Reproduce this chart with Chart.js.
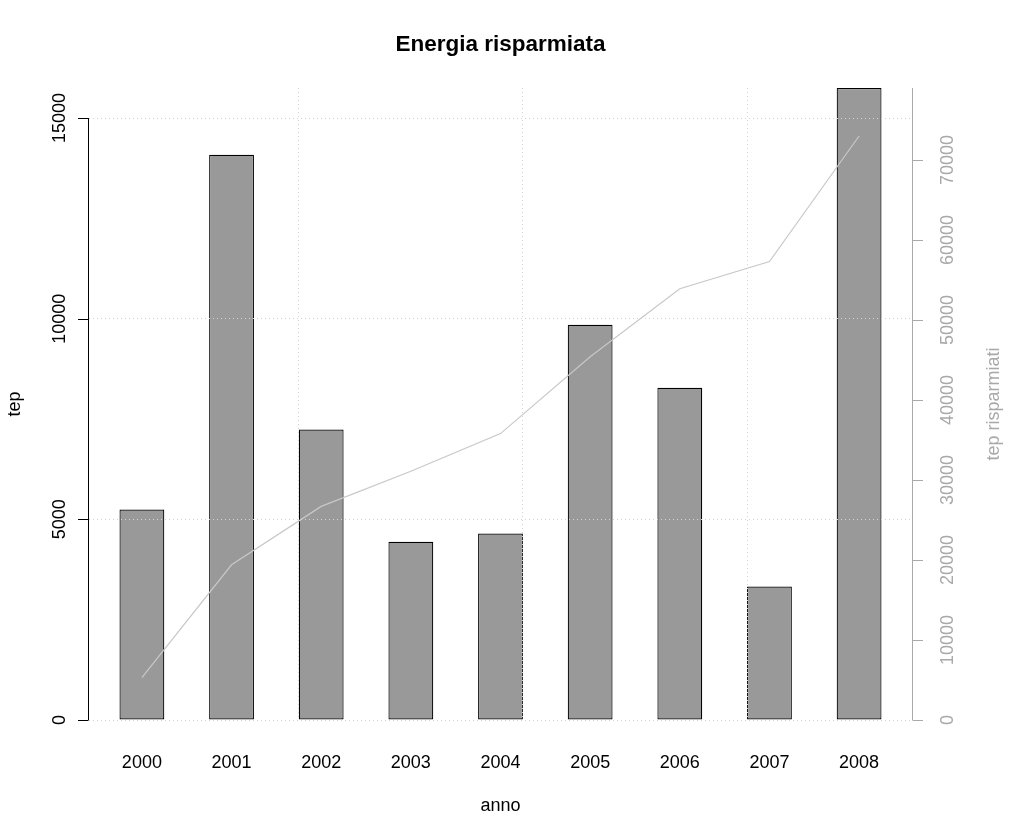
<!DOCTYPE html>
<html>
<head>
<meta charset="utf-8">
<script src="https://cdn.jsdelivr.net/npm/chart.js@4.4.1/dist/chart.umd.min.js"></script>
<style>
    html, body { margin: 0; padding: 0; background: #fff; }
</style>
</head>
<body>
<canvas id="grafico" width="1024" height="838"></canvas>
<script>
    // dati
    const anni = ['2000', '2001', '2002', '2003', '2004', '2005', '2006', '2007', '2008'];
    const tepAnno = [5245, 14083, 7238, 4440, 4647, 9847, 8277, 3326, 15748];
    const tepCumulati = [5300, 19400, 26700, 31100, 35800, 45400, 53900, 57300, 73000];
    const tickSinistra = [0, 5000, 10000, 15000];
    const tickDestra = [0, 10000, 20000, 30000, 40000, 50000, 60000, 70000];
    const grigliaX = [5, 10, 15];

    const font = '"Liberation Sans", Arial, sans-serif';
    const grigio = '#a9a9a9';

    // posizione delle barre come in barplot() di R (larghezza 1, spazio 1)
    const centro = i => 1.5 + 2 * i;

    const assiR = {
        id: 'assiR',
        afterDraw(chart) {
            const ctx = chart.ctx;
            const area = chart.chartArea;
            const x = chart.scales.x, y = chart.scales.y, y2 = chart.scales.y2;
            ctx.save();
            ctx.lineWidth = 1;

            // asse sinistro
            ctx.strokeStyle = '#000';
            ctx.beginPath();
            ctx.moveTo(area.left - 0.5, y.getPixelForValue(tickSinistra[0]));
            ctx.lineTo(area.left - 0.5, y.getPixelForValue(tickSinistra[tickSinistra.length - 1]));
            tickSinistra.forEach(v => {
                const py = Math.round(y.getPixelForValue(v)) + 0.5;
                ctx.moveTo(area.left - 0.5, py);
                ctx.lineTo(area.left - 11, py);
            });
            ctx.stroke();

            ctx.fillStyle = '#000';
            ctx.font = '18px ' + font;
            ctx.textAlign = 'center';
            ctx.textBaseline = 'middle';
            tickSinistra.forEach(v => {
                ctx.save();
                ctx.translate(60, y.getPixelForValue(v));
                ctx.rotate(-Math.PI / 2);
                ctx.fillText(String(v), 0, 0);
                ctx.restore();
            });

            // asse destro
            ctx.strokeStyle = grigio;
            ctx.beginPath();
            ctx.moveTo(area.right + 0.5, y2.getPixelForValue(0));
            ctx.lineTo(area.right + 0.5, area.top);
            tickDestra.forEach(v => {
                const py = Math.round(y2.getPixelForValue(v)) + 0.5;
                ctx.moveTo(area.right + 0.5, py);
                ctx.lineTo(area.right + 11, py);
            });
            ctx.stroke();

            ctx.fillStyle = grigio;
            tickDestra.forEach(v => {
                ctx.save();
                ctx.translate(948, y2.getPixelForValue(v));
                ctx.rotate(-Math.PI / 2);
                ctx.fillText(String(v), 0, 0);
                ctx.restore();
            });

            // etichette anni
            ctx.fillStyle = '#000';
            anni.forEach((a, i) => {
                ctx.fillText(a, x.getPixelForValue(centro(i)), 763);
            });

            // titoli
            const mid = (area.left + area.right) / 2;
            ctx.fillText('anno', mid, 806);
            ctx.save();
            ctx.translate(15, (area.top + area.bottom) / 2);
            ctx.rotate(-Math.PI / 2);
            ctx.fillText('tep', 0, 0);
            ctx.restore();

            ctx.fillStyle = grigio;
            ctx.save();
            ctx.translate(994, (area.top + area.bottom) / 2);
            ctx.rotate(-Math.PI / 2);
            ctx.fillText('tep risparmiati', 0, 0);
            ctx.restore();

            ctx.fillStyle = '#000';
            ctx.font = 'bold 22.5px ' + font;
            ctx.fillText('Energia risparmiata', mid, 45);
            ctx.restore();
        }
    };

    const griglia = {
        color: '#d3d3d3',
        lineWidth: 1,
        drawTicks: false,
        offset: false,
        z: 1
    };
    const bordoGriglia = { display: false, dash: [1, 3] };

    new Chart(document.getElementById('grafico'), {
        type: 'bar',
        data: {
            datasets: [{
                type: 'bar',
                data: tepAnno.map((v, i) => ({ x: centro(i), y: v })),
                backgroundColor: '#999999',
                borderColor: '#000000',
                borderWidth: 1.2,
                borderSkipped: false,
                barPercentage: 0.5,
                categoryPercentage: 1,
                yAxisID: 'y',
                order: 2
            }, {
                type: 'line',
                data: tepCumulati.map((v, i) => ({ x: centro(i), y: v })),
                borderColor: '#c8c8c8',
                borderWidth: 1.2,
                pointRadius: 0,
                tension: 0,
                fill: false,
                yAxisID: 'y2',
                order: 1
            }]
        },
        options: {
            responsive: false,
            animation: false,
            devicePixelRatio: 1,
            layout: { padding: { top: 88, left: 0, right: 0, bottom: 0 } },
            plugins: {
                legend: { display: false },
                title: { display: false },
                tooltip: { enabled: false }
            },
            scales: {
                x: {
                    type: 'linear',
                    position: 'bottom',
                    min: 0.32,
                    max: 18.68,
                    offset: false,
                    ticks: { display: false },
                    grid: griglia,
                    border: bordoGriglia,
                    afterBuildTicks: s => { s.ticks = grigliaX.map(v => ({ value: v })); },
                    afterFit: s => { s.height = 118; }
                },
                y: {
                    position: 'left',
                    min: 0,
                    max: 15748,
                    ticks: { display: false },
                    grid: griglia,
                    border: bordoGriglia,
                    afterBuildTicks: s => { s.ticks = tickSinistra.map(v => ({ value: v })); },
                    afterFit: s => { s.width = 89; }
                },
                y2: {
                    position: 'right',
                    min: 0,
                    max: 79000,
                    ticks: { display: false },
                    grid: { display: false },
                    border: { display: false },
                    afterFit: s => { s.width = 112; }
                }
            }
        },
        plugins: [assiR]
    });
</script>
</body>
</html>
